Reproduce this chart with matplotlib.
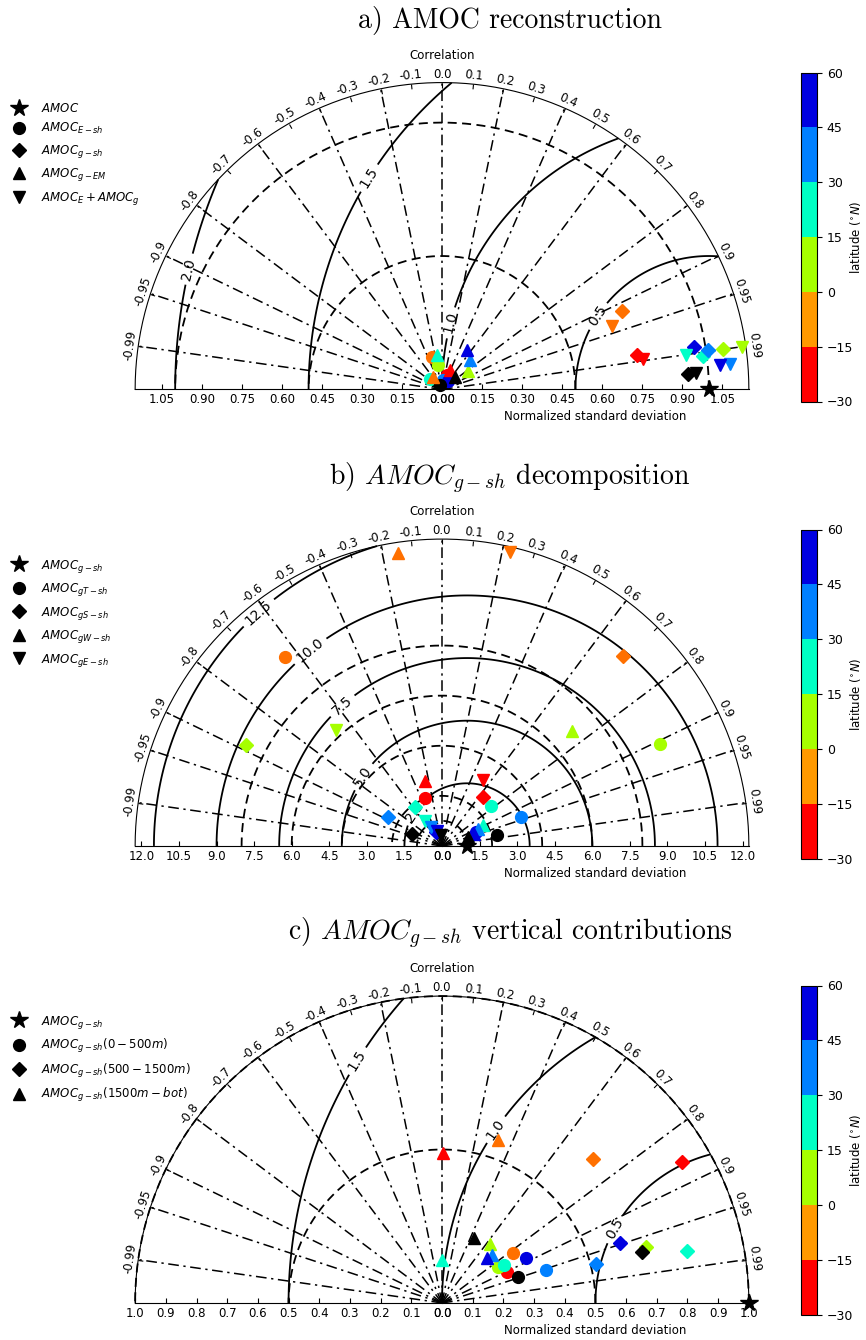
import numpy as np
import matplotlib
matplotlib.use('Agg')
import matplotlib.pyplot as plt
from matplotlib.projections import PolarAxes
import mpl_toolkits.axisartist.floating_axes as FA
import mpl_toolkits.axisartist.grid_finder as GF
from matplotlib.colors import ListedColormap, BoundaryNorm
from matplotlib.lines import Line2D
import matplotlib.cm as cm

# latitude bins / colours (colorbar) and marker colours
lat_bounds = [-30, -15, 0, 15, 30, 45, 60]
lat_colors = ['#ff0000', '#ff9900', '#a6ff00', '#00ffc4', '#0080ff', '#0000e0']
mark_colors = ['#ff0000', '#ff7000', '#a6ff00', '#00ffc8', '#0080ff', '#0000e0']
lats = [-22.5, -7.5, 7.5, 22.5, 37.5, 52.5]

# correlation ticks on the arc
cor_ticks = [-0.99, -0.95, -0.9, -0.8, -0.7, -0.6, -0.5, -0.4, -0.3, -0.2, -0.1,
             0.0, 0.1, 0.2, 0.3, 0.4, 0.5, 0.6, 0.7, 0.8, 0.9, 0.95, 0.99]
cor_grid = [-0.99, -0.95, -0.9, -0.8, -0.6, -0.4, -0.2, 0.0,
            0.2, 0.4, 0.6, 0.8, 0.9, 0.95, 0.99]

# ---- panel a: AMOC reconstruction (std, corr), 6 latitudes + black
a_circ_std = [0.057, 0.126, 0.092, 0.059, 0.035, 0.038]
a_circ_cor = [0.33, -0.29, -0.16, -0.75, 0.11, 0.58]
a_circ_blk = (0.018, -0.38)
a_diam_std = [0.741, 0.735, 1.063, 0.986, 1.007, 0.957]
a_diam_cor = [0.985, 0.917, 0.990, 0.992, 0.989, 0.986]
a_diam_blk = (0.924, 0.998)
a_tri_std = [0.078, 0.057, 0.118, 0.132, 0.151, 0.176]
a_tri_cor = [0.38, -0.58, 0.81, -0.14, 0.69, 0.53]
a_tri_blk = (0.067, 0.72)
a_tdn_std = [0.760, 0.680, 1.137, 0.924, 1.085, 1.045]
a_tdn_cor = [0.989, 0.936, 0.990, 0.990, 0.996, 0.996]
a_tdn_blk = (0.954, 0.998)

# ---- panel b: AMOC_g-sh decomposition
b_circ_std = [2.02, 9.82, 9.61, 2.52, 3.37, 1.46]
b_circ_cor = [-0.33, -0.64, 0.906, 0.77, 0.94, 0.925]
b_circ_blk = (2.24, 0.98)
b_diam_std = [2.55, 10.47, 8.79, 1.90, 2.45, 0.60]
b_diam_cor = [0.64, 0.69, -0.889, -0.57, -0.88, -0.39]
b_diam_blk = (1.30, -0.93)
b_tri_std = [2.66, 11.81, 6.92, 1.85, 1.59, 1.34]
b_tri_cor = [-0.25, -0.149, 0.751, 0.89, 0.91, 0.94]
b_tri_blk = (1.11, 0.95)
b_tdn_std = [3.09, 12.03, 6.25, 1.20, 0.86, 0.62]
b_tdn_cor = [0.53, 0.227, -0.675, -0.58, -0.50, -0.35]
b_tdn_blk = (0.43, -0.09)

# ---- panel c: AMOC_g-sh vertical contributions
c_circ_std = [0.236, 0.282, 0.216, 0.236, 0.357, 0.311]
c_circ_cor = [0.902, 0.820, 0.838, 0.856, 0.953, 0.880]
c_circ_blk = (0.263, 0.945)
c_diam_std = [0.906, 0.680, 0.689, 0.818, 0.518, 0.612]
c_diam_cor = [0.863, 0.726, 0.965, 0.978, 0.970, 0.948]
c_diam_blk = (0.671, 0.969)
c_tri_std = [0.49, 0.563, 0.247, 0.14, 0.226, 0.207]
c_tri_cor = [0.006, 0.325, 0.633, 0.0, 0.720, 0.714]
c_tri_blk = (0.235, 0.447)

cmap = ListedColormap(lat_colors)
mcmap = ListedColormap(mark_colors)
norm = BoundaryNorm(lat_bounds, cmap.N)

W, H = 866, 1340
fig = plt.figure(figsize=(W / 100, H / 100), dpi=100)

msz = {'*': 13, 'o': 8.5, 'D': 7.5, '^': 8.5, 'v': 8.5}


def taylor(y0, smax, sticks, sfmt, std_circles, levels, lab_pos):
    tr = PolarAxes.PolarTransform(apply_theta_transforms=False)
    tlocs = np.arccos(cor_ticks)
    gl1 = GF.FixedLocator(tlocs)
    tf1 = GF.DictFormatter(dict(zip(tlocs, [str(c) for c in cor_ticks])))
    gl2 = GF.FixedLocator(sticks)
    tf2 = GF.DictFormatter({s: sfmt % s for s in sticks})
    gh = FA.GridHelperCurveLinear(tr, extremes=(0, np.pi, 0, smax),
                                  grid_locator1=gl1, tick_formatter1=tf1,
                                  grid_locator2=gl2, tick_formatter2=tf2)
    rect = [129 / W, (H - y0) / H, 626 / W, 313 / H]
    ax = FA.FloatingAxes(fig, rect, grid_helper=gh)
    fig.add_axes(ax)

    ax.axis["top"].set_axis_direction("bottom")
    ax.axis["top"].toggle(ticklabels=True, label=True)
    ax.axis["top"].major_ticklabels.set_axis_direction("top")
    ax.axis["top"].label.set_axis_direction("top")
    ax.axis["top"].label.set_text("Correlation")
    ax.axis["left"].set_axis_direction("bottom")
    ax.axis["left"].label.set_text("Normalized standard deviation")
    ax.axis["right"].set_axis_direction("top")
    ax.axis["right"].toggle(ticklabels=True)
    ax.axis["right"].major_ticklabels.set_axis_direction("bottom")
    ax.axis["bottom"].set_visible(False)
    for k in ["top", "left", "right"]:
        ax.axis[k].major_ticklabels.set_fontsize(8.5)
        ax.axis[k].label.set_fontsize(8.5)

    aux = ax.get_aux_axes(tr)
    # correlation grid
    for c in cor_grid:
        th = np.arccos(c)
        aux.plot([th, th], [0, smax], color='k', lw=1.1, ls=(0, (7, 3, 1.5, 3)))
    # std circles
    t = np.linspace(0, np.pi, 300)
    for s in std_circles:
        aux.plot(t, np.full_like(t, s), color='k', lw=1.3, ls=(0, (5, 3)))
    # centred RMS contours
    rs, ts = np.meshgrid(np.linspace(0, smax, 200), np.linspace(0, np.pi, 200))
    rms = np.sqrt(1 + rs ** 2 - 2 * rs * np.cos(ts))
    cs = aux.contour(ts, rs, rms, levels, colors='k', linewidths=1.3)
    aux.clabel(cs, inline=True, fontsize=10, fmt='%.1f', manual=lab_pos)
    return ax, aux


def series(aux, stds, cors, blk, m):
    for s, c, la in zip(stds, cors, lats):
        aux.plot(np.arccos(c), s, marker=m, ls='', color=mcmap(norm(la)),
                 ms=msz[m], clip_on=False, zorder=5)
    aux.plot(np.arccos(blk[1]), blk[0], marker=m, ls='', color='k',
             ms=msz[m], clip_on=False, zorder=5)


def legend(y_top, items):
    hs = [Line2D([], [], ls='', marker=m, color='k', ms=msz[m], label=l) for m, l in items]
    fig.legend(handles=hs, loc='upper left', bbox_to_anchor=(0.006, 1 - y_top / H),
               frameon=False, fontsize=8.5, handlelength=1.5, handletextpad=1.1,
               borderaxespad=0, labelspacing=0.55)


def colorbar(y_top):
    cax = fig.add_axes([801 / W, (H - y_top - 329) / H, 16 / W, 329 / H])
    cb = fig.colorbar(cm.ScalarMappable(norm=norm, cmap=cmap), cax=cax, ticks=lat_bounds)
    cb.set_label(r'latitude ($^{\circ}N$)', fontsize=8.5)
    cb.ax.yaxis.set_label_coords(2.95, 0.5)
    cb.ax.tick_params(labelsize=9)


def title(y, txt):
    fig.text(510 / W, 1 - y / H, txt, ha='center', va='baseline', fontsize=20,
             family='cmr10', math_fontfamily='cm')


# panel a
ax, aux = taylor(392.5, 1.15, np.arange(0, 1.06, 0.15), '%.2f', [0.5, 1.0],
                 [0.5, 1.0, 1.5, 2.0],
                 [(2.706, 1.091), (1.998, 0.955), (1.451, 0.252), (0.438, 0.646)])
series(aux, a_circ_std, a_circ_cor, a_circ_blk, 'o')
series(aux, a_diam_std, a_diam_cor, a_diam_blk, 'D')
series(aux, a_tri_std, a_tri_cor, a_tri_blk, '^')
series(aux, a_tdn_std, a_tdn_cor, a_tdn_blk, 'v')
aux.plot(0, 1.0, 'k*', ms=msz['*'], clip_on=False, zorder=6)
legend(97, [('*', r'$AMOC$'), ('o', r'$AMOC_{E-sh}$'), ('D', r'$AMOC_{g-sh}$'),
            ('^', r'$AMOC_{g-EM}$'), ('v', r'$AMOC_E + AMOC_g$')])
colorbar(72.5)
title(28, 'a) AMOC reconstruction')

# panel b
ax, aux = taylor(849, 12.25, np.arange(0, 12.1, 1.5), '%.1f', [1, 2, 4, 6, 8],
                 [2.5, 5.0, 7.5, 10.0, 12.5],
                 [(2.235, 11.46), (2.164, 9.29), (2.185, 6.64), (2.417, 4.07), (2.274, 1.99)])
series(aux, b_circ_std, b_circ_cor, b_circ_blk, 'o')
series(aux, b_diam_std, b_diam_cor, b_diam_blk, 'D')
series(aux, b_tri_std, b_tri_cor, b_tri_blk, '^')
series(aux, b_tdn_std, b_tdn_cor, b_tdn_blk, 'v')
aux.plot(0, 1.0, 'k*', ms=msz['*'], clip_on=False, zorder=6)
legend(553, [('*', r'$AMOC_{g-sh}$'), ('o', r'$AMOC_{gT-sh}$'), ('D', r'$AMOC_{gS-sh}$'),
             ('^', r'$AMOC_{gW-sh}$'), ('v', r'$AMOC_{gE-sh}$')])
colorbar(529.5)
title(485, r'b) $AMOC_{g-sh}$ decomposition')

# panel c
ax, aux = taylor(1306, 1.0, np.arange(0, 1.01, 0.1), '%.1f', [0.5, 1.0],
                 [0.5, 1.0, 1.5],
                 [(1.756, 0.711), (1.211, 0.582), (0.413, 0.608)])
series(aux, c_circ_std, c_circ_cor, c_circ_blk, 'o')
series(aux, c_diam_std, c_diam_cor, c_diam_blk, 'D')
series(aux, c_tri_std, c_tri_cor, c_tri_blk, '^')
aux.plot(0, 1.0, 'k*', ms=msz['*'], clip_on=False, zorder=6)
legend(1009, [('*', r'$AMOC_{g-sh}$'), ('o', r'$AMOC_{g-sh}(0-500m)$'),
              ('D', r'$AMOC_{g-sh}(500-1500m)$'), ('^', r'$AMOC_{g-sh}(1500m-bot)$')])
colorbar(985.5)
title(940, r'c) $AMOC_{g-sh}$ vertical contributions')

fig.savefig('out.png', dpi=100)
